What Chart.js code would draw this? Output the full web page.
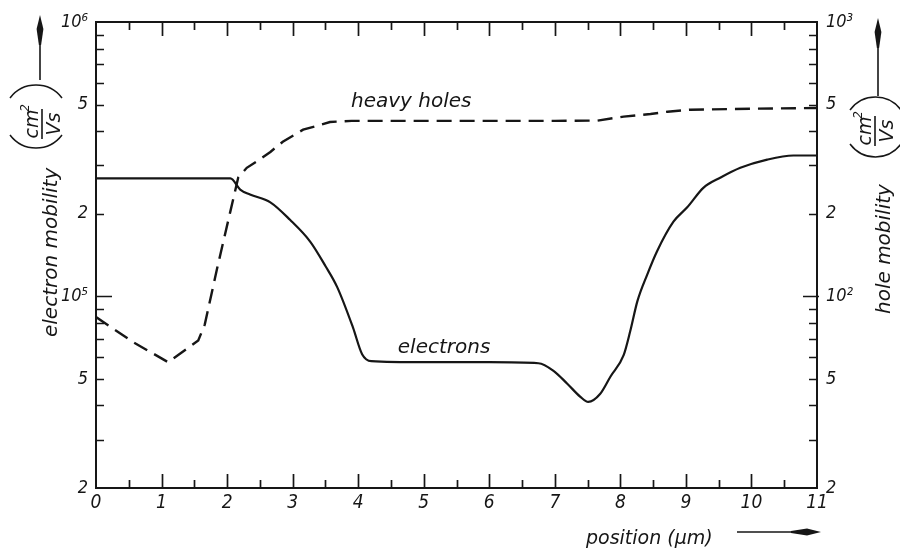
<!DOCTYPE html>
<html>
<head>
<meta charset="utf-8">
<script src="https://cdn.jsdelivr.net/npm/chart.js@4.4.0/dist/chart.umd.min.js"></script>
<style>
  body { margin: 0; background: #fff; }
  canvas { display: block; }
</style>
</head>
<body>
<canvas id="mobilityChart" width="900" height="552"></canvas>
<script>
// electron mobility (left axis, cm^2/Vs) vs position in um
const electronPos = [0, 1, 2.05, 2.2, 2.35, 2.66, 2.96, 3.27, 3.5, 3.68, 3.92, 4.06, 4.2, 5, 6, 6.75, 6.98, 7.19, 7.39, 7.51, 7.69, 7.85, 8.05, 8.15, 8.26, 8.41, 8.56, 8.81, 9.02, 9.27, 9.53, 9.83, 10.24, 10.64, 11];
const electronMob = [2.69e5, 2.69e5, 2.69e5, 2.45e5, 2.35e5, 2.2e5, 1.9e5, 1.58e5, 1.29e5, 1.08e5, 7.7e4, 6.15e4, 5.8e4, 5.75e4, 5.75e4, 5.7e4, 5.35e4, 4.8e4, 4.3e4, 4.12e4, 4.4e4, 5.1e4, 6.1e4, 7.45e4, 9.6e4, 1.2e5, 1.46e5, 1.87e5, 2.11e5, 2.49e5, 2.71e5, 2.94e5, 3.15e5, 3.26e5, 3.26e5];

// heavy hole mobility (right axis)
const holePos = [0, 0.57, 1.1, 1.56, 1.66, 1.85, 2.05, 2.17, 2.3, 2.45, 2.66, 2.85, 3.16, 3.37, 3.57, 3.9, 5, 6, 7, 7.65, 8.05, 8.46, 8.72, 9.07, 10, 11];
const holeMob = [84, 68, 57.5, 69, 79, 127, 204, 271, 294, 310, 336, 366, 405, 418, 432, 436, 436, 436, 436, 437, 452, 462, 471, 479, 483, 486];

// tick labels
const xTickLabels = ['0', '1', '2', '3', '4', '5', '6', '7', '8', '9', '10', '11'];
const leftTickValues = [2e4, 5e4, 1e5, 2e5, 5e5, 1e6];
const leftTickText = ['2', '5', '10⁵', '2', '5', '10⁶'];
const rightTickValues = [20, 50, 100, 200, 500, 1000];
const rightTickText = ['2', '5', '10²', '2', '5', '10³'];

// curve captions, anchored in data coordinates
const curveNotes = [
  { text: 'heavy holes', x: 4.81, y: 512, axis: 'y2' },
  { text: 'electrons', x: 5.31, y: 6.5e4, axis: 'y' }
];

const ink = '#161616';
const fontFamily = '"DejaVu Sans", sans-serif';
const narrowFamily = '"DejaVu Sans Condensed", "DejaVu Sans", sans-serif';

function decadeTicks(min, max) {
  const out = [];
  for (let d = Math.pow(10, Math.floor(Math.log10(min))); d <= max; d *= 10) {
    for (let m = 1; m <= 9; m++) {
      const v = m * d;
      if (v >= min && v <= max) out.push(v);
    }
  }
  return out;
}

function isDecade(v) {
  return Math.abs(Math.log10(v) - Math.round(Math.log10(v))) < 1e-9;
}

// tick marks pointing into the plot, like the printed figure
const inwardTicks = {
  id: 'inwardTicks',
  afterDatasetsDraw(chart) {
    const { ctx, chartArea: a, scales } = chart;
    ctx.save();
    ctx.strokeStyle = ink;
    ctx.lineWidth = 1.7;
    ctx.beginPath();
    for (let i = 1; i < 22; i++) {
      const px = Math.round(scales.x.getPixelForValue(i / 2)) + 0.5;
      const len = i % 2 === 0 ? 14 : 8;
      ctx.moveTo(px, a.bottom); ctx.lineTo(px, a.bottom - len);
      ctx.moveTo(px, a.top); ctx.lineTo(px, a.top + len);
    }
    decadeTicks(2e4, 1e6).slice(1, -1).forEach(v => {
      const py = Math.round(scales.y.getPixelForValue(v)) + 0.5;
      ctx.moveTo(a.left, py); ctx.lineTo(a.left + (isDecade(v) ? 16 : 8), py);
    });
    decadeTicks(20, 1000).slice(1, -1).forEach(v => {
      const py = Math.round(scales.y2.getPixelForValue(v)) + 0.5;
      ctx.moveTo(a.right + (isDecade(v) ? 2 : 0), py);
      ctx.lineTo(a.right - (isDecade(v) ? 14 : 8), py);
    });
    ctx.stroke();
    ctx.restore();
  }
};

function arrow(ctx, x1, y1, x2, y2) {
  const ang = Math.atan2(y2 - y1, x2 - x1);
  ctx.save();
  ctx.translate(x2, y2);
  ctx.rotate(ang);
  const len = Math.hypot(x2 - x1, y2 - y1);
  ctx.lineWidth = 1.6;
  ctx.beginPath();
  ctx.moveTo(-len, 0); ctx.lineTo(-20, 0);
  ctx.stroke();
  ctx.beginPath();
  ctx.moveTo(0, 0);
  ctx.lineTo(-14, -3.4);
  ctx.lineTo(-30, -1.1);
  ctx.lineTo(-30, 1.1);
  ctx.lineTo(-14, 3.4);
  ctx.closePath();
  ctx.fill();
  ctx.restore();
}

// "(cm²/Vs)" drawn in the rotated text frame; u runs along the text, v across it
function units(ctx, uText, uOpen, uClose, vTop, vBot) {
  const bar = -15;
  ctx.textAlign = 'center';
  ctx.textBaseline = 'alphabetic';
  ctx.font = 'italic 19px ' + fontFamily;
  ctx.fillText('cm', uText, bar - 4);
  ctx.fillText('Vs', uText, bar + 18);
  ctx.font = 'italic 12px ' + fontFamily;
  ctx.fillText('2', uText + 16, bar - 13);
  ctx.lineWidth = 1.6;
  ctx.beginPath();
  ctx.moveTo(uText - 15, bar); ctx.lineTo(uText + 15, bar);
  ctx.stroke();
  ctx.lineWidth = 1.5;
  ctx.beginPath();
  ctx.moveTo(uOpen + 13, vTop);
  ctx.bezierCurveTo(uOpen - 4.3, vTop + 13, uOpen - 4.3, vBot - 13, uOpen + 13, vBot);
  ctx.moveTo(uClose - 13, vTop);
  ctx.bezierCurveTo(uClose + 4.3, vTop + 13, uClose + 4.3, vBot - 13, uClose - 13, vBot);
  ctx.stroke();
}

function sideTitle(ctx, baseX, text, yStart, yUnits, yOpen, yClose, vTop, vBot) {
  ctx.save();
  ctx.translate(baseX, 0);
  ctx.rotate(-Math.PI / 2);
  ctx.font = 'italic 20px ' + fontFamily;
  ctx.textAlign = 'left';
  ctx.textBaseline = 'alphabetic';
  ctx.fillText(text, -yStart, 0);
  units(ctx, -yUnits, -yOpen, -yClose, vTop, vBot);
  ctx.restore();
}

const figureText = {
  id: 'figureText',
  afterDraw(chart) {
    const { ctx, scales } = chart;
    ctx.save();
    ctx.fillStyle = ink;
    ctx.strokeStyle = ink;

    sideTitle(ctx, 57, 'electron mobility', 337, 124, 148, 85, -47, 5);
    arrow(ctx, 40, 80, 40, 15);
    sideTitle(ctx, 890, 'hole mobility', 314, 131, 157, 97, -40, 11);
    arrow(ctx, 878, 96, 878, 18);

    ctx.font = 'italic 19px ' + fontFamily;
    ctx.textAlign = 'left';
    ctx.textBaseline = 'alphabetic';
    ctx.fillText('position (µm)', 586, 544);
    arrow(ctx, 737, 532, 821, 532);

    ctx.font = 'italic 20px ' + fontFamily;
    ctx.textAlign = 'center';
    ctx.textBaseline = 'middle';
    curveNotes.forEach(n => {
      ctx.fillText(n.text, scales.x.getPixelForValue(n.x), scales[n.axis].getPixelForValue(n.y));
    });
    ctx.restore();
  }
};

const xTickFont = { family: narrowFamily, size: 19, style: 'italic' };
const yTickFont = { family: narrowFamily, size: 18, style: 'italic' };

new Chart(document.getElementById('mobilityChart'), {
  type: 'line',
  data: {
    datasets: [
      {
        label: 'electrons',
        data: electronPos.map((x, i) => ({ x, y: electronMob[i] })),
        yAxisID: 'y',
        borderColor: ink,
        borderWidth: 2.2,
        pointRadius: 0,
        cubicInterpolationMode: 'monotone',
        tension: 0.4
      },
      {
        label: 'heavy holes',
        data: holePos.map((x, i) => ({ x, y: holeMob[i] })),
        yAxisID: 'y2',
        borderColor: ink,
        borderWidth: 2.4,
        borderDash: [15, 8],
        pointRadius: 0,
        tension: 0
      }
    ]
  },
  options: {
    responsive: false,
    animation: false,
    layout: { padding: 0 },
    plugins: { legend: { display: false }, tooltip: { enabled: false } },
    scales: {
      x: {
        type: 'linear', position: 'bottom', min: 0, max: 11,
        grid: { display: false, drawTicks: false },
        border: { display: true, color: ink, width: 2 },
        ticks: {
          stepSize: 1, color: ink, font: xTickFont, padding: 4, maxRotation: 0,
          callback: v => xTickLabels[v]
        },
        afterFit: s => { s.height = 64; }
      },
      x2: {
        type: 'linear', position: 'top', min: 0, max: 11,
        grid: { display: false, drawTicks: false },
        border: { display: true, color: ink, width: 2 },
        ticks: { display: false },
        afterFit: s => { s.height = 22; }
      },
      y: {
        type: 'logarithmic', position: 'left', min: 2e4, max: 1e6,
        grid: { display: false, drawTicks: false },
        border: { display: true, color: ink, width: 2 },
        afterBuildTicks: s => { s.ticks = leftTickValues.map(value => ({ value })); },
        ticks: {
          autoSkip: false, color: ink, font: yTickFont, padding: 8,
          callback: (v, i) => leftTickText[i]
        },
        afterFit: s => { s.width = 96; }
      },
      y2: {
        type: 'logarithmic', position: 'right', min: 20, max: 1000,
        grid: { display: false, drawTicks: false },
        border: { display: true, color: ink, width: 2 },
        afterBuildTicks: s => { s.ticks = rightTickValues.map(value => ({ value })); },
        ticks: {
          autoSkip: false, color: ink, font: yTickFont, padding: 9,
          callback: (v, i) => rightTickText[i]
        },
        afterFit: s => { s.width = 83; }
      }
    }
  },
  plugins: [inwardTicks, figureText]
});
</script>
</body>
</html>
